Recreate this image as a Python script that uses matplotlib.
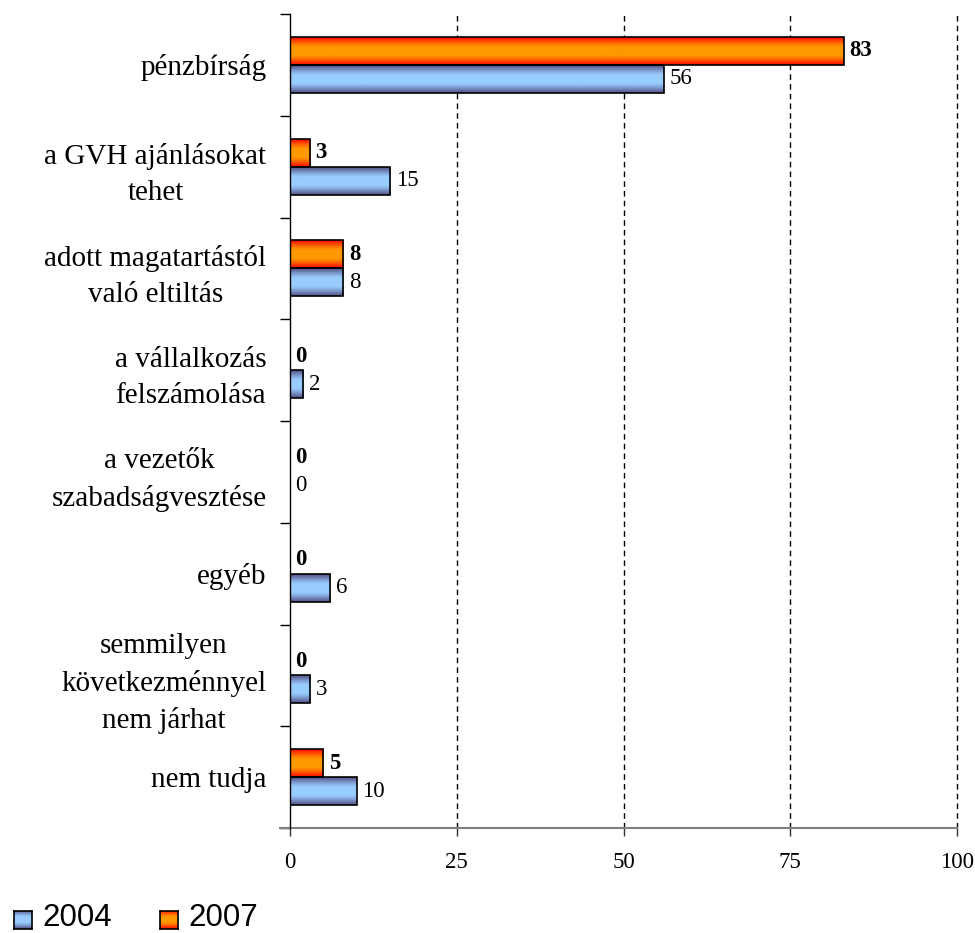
"""
Következmények: 2004 vs 2007 válaszok megoszlása (%), vízszintes oszlopdiagram.
"""

import numpy as np
import matplotlib
matplotlib.use("Agg")
import matplotlib.pyplot as plt

# data
categories = [
    "pénzbírság",
    "a GVH ajánlásokat\ntehet",
    "adott magatartástól\nvaló eltiltás",
    "a vállalkozás\nfelszámolása",
    "a vezetők\nszabadságvesztése",
    "egyéb",
    "semmilyen\nkövetkezménnyel\nnem járhat",
    "nem tudja",
]
values_2004 = [56, 15, 8, 2, 0, 6, 3, 10]
values_2007 = [83, 3, 8, 0, 0, 0, 0, 5]
xticks = [0, 25, 50, 75, 100]

SERIF = "Liberation Serif"
SANS = "Liberation Sans"


def gradient(edge, mid, n=64):
    # excel style "from center" fill: edge -> mid -> edge
    edge = np.array(matplotlib.colors.to_rgb(edge))
    mid = np.array(matplotlib.colors.to_rgb(mid))
    t = np.linspace(-1, 1, n)
    w = np.clip(np.abs(t) * 1.6 - 0.45, 0, 1)[:, None] ** 1.3
    return (mid * (1 - w) + edge * w)[:, None, :]


grad_2004 = gradient("#5c5f94", "#99ccff")
grad_2007 = gradient("#ff1a00", "#ff9900")

fig = plt.figure(figsize=(9.75, 9.33), dpi=100)
ax = fig.add_axes([290 / 975, 1 - 828 / 933, 667 / 975, 814 / 933])

y = np.arange(len(categories))
h = 0.275
bars04 = ax.barh(y + h / 2, values_2004, height=h, facecolor="none",
                 edgecolor="black", lw=1.2, zorder=4)
bars07 = ax.barh(y - h / 2, values_2007, height=h, facecolor="none",
                 edgecolor="black", lw=1.2, zorder=4)

# gradient fills
for bars, g in ((bars04, grad_2004), (bars07, grad_2007)):
    for b in bars:
        if b.get_width() <= 0:
            continue
        x0, y0 = b.get_x(), b.get_y()
        ax.imshow(g, extent=(x0, x0 + b.get_width(), y0 + b.get_height(), y0),
                  aspect="auto", interpolation="bilinear", zorder=3)

# value labels
for i, (v04, v07) in enumerate(zip(values_2004, values_2007)):
    ax.annotate(str(v07), (v07, i - h / 2), xytext=(4, 0),
                textcoords="offset points", va="center", ha="left",
                fontsize=16.5, fontweight="bold", family=SERIF, zorder=5)
    ax.annotate(str(v04), (v04, i + h / 2), xytext=(4, 0),
                textcoords="offset points", va="center", ha="left",
                fontsize=16.5, family=SERIF, zorder=5)

ax.set_xlim(0, 100)
ax.set_ylim(len(categories) - 0.5, -0.5)
ax.set_xticks(xticks)
ax.set_xticklabels([str(t) for t in xticks], fontsize=16.5, family=SERIF)
ax.set_yticks(y)
ax.set_yticklabels(categories, fontsize=21, family=SERIF,
                   multialignment="center", linespacing=1.5)
ax.set_yticks(np.arange(len(categories) + 1) - 0.5, minor=True)
ax.tick_params(axis="y", which="major", length=0, pad=17)
ax.tick_params(axis="y", which="minor", length=7, width=1, color="black")
ax.tick_params(axis="x", length=6, width=1, pad=11, color="#333333")

for x in xticks[1:]:
    ax.axvline(x, color="black", lw=1, ls=(0, (4, 3)), zorder=1, clip_on=False)

ax.spines["top"].set_visible(False)
ax.spines["right"].set_visible(False)
ax.spines["left"].set_linewidth(1)
ax.spines["left"].set_zorder(6)
ax.spines["bottom"].set_color("#808080")
ax.spines["bottom"].set_linewidth(1.5)
# bottom line extends a bit to the left of the axis, like the original
ax.plot([-1.5, 0], [len(categories) - 0.5] * 2, color="#808080", lw=1.5,
        clip_on=False, zorder=2)

# legend with gradient swatches
for x0, g, label in ((14, grad_2004, "2004"), (160, grad_2007, "2007")):
    lax = fig.add_axes([x0 / 975, 1 - 929 / 933, 18 / 975, 18 / 933])
    lax.imshow(g, aspect="auto", interpolation="bilinear")
    lax.set_xticks([])
    lax.set_yticks([])
    for s in lax.spines.values():
        s.set_linewidth(1.2)
    fig.text((x0 + 28) / 975, 1 - 926 / 933, label, fontsize=22.5,
             family=SANS, va="baseline", ha="left")

fig.savefig("out.png", dpi=100)
